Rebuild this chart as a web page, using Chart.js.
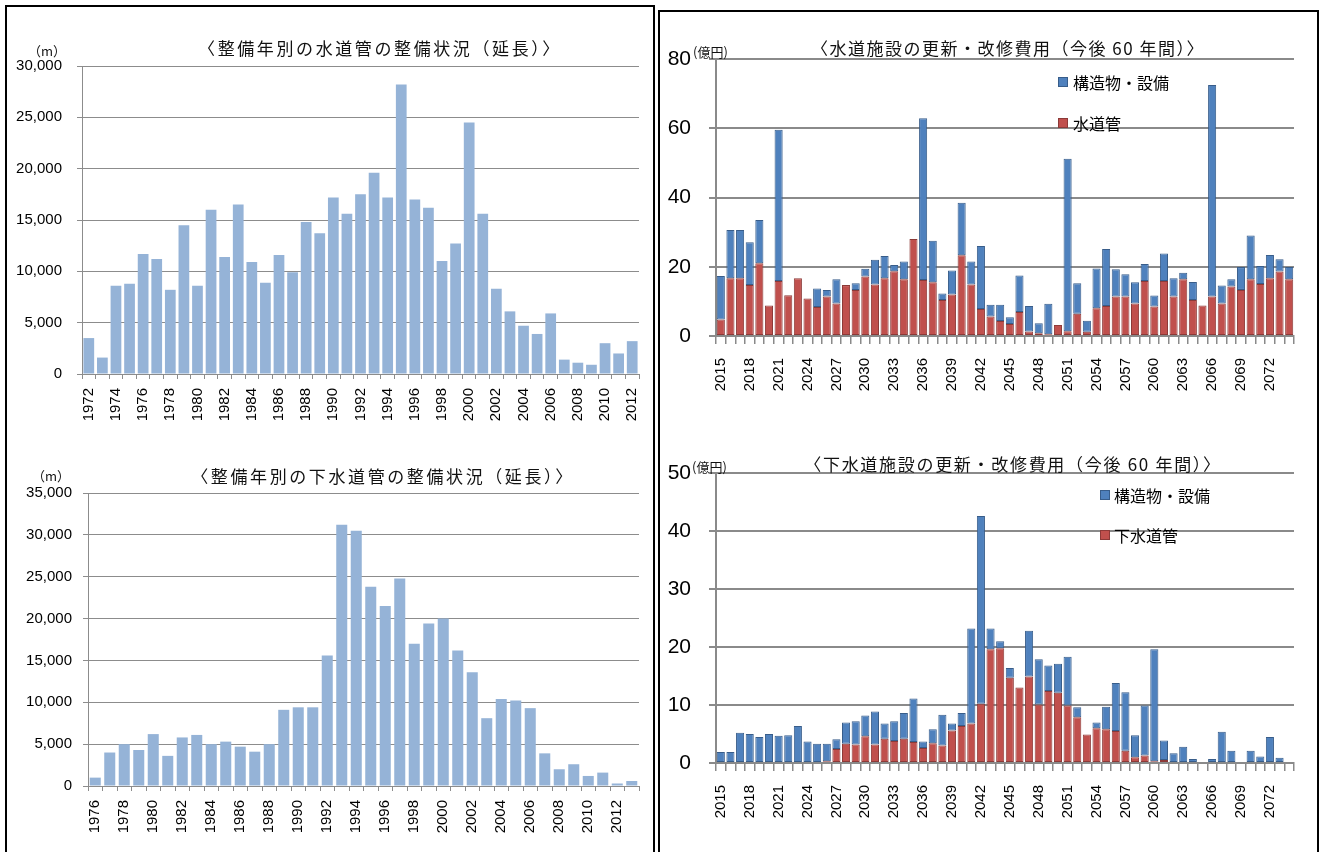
<!DOCTYPE html>
<html><head><meta charset="utf-8">
<script src="https://cdn.jsdelivr.net/npm/chart.js@4.4.1/dist/chart.umd.min.js"></script>
<style>
html,body{margin:0;padding:0;background:#fff;}
body{width:1319px;height:852px;overflow:hidden;position:relative;font-family:'Noto Sans CJK JP','Noto Sans',sans-serif;}
.box{position:absolute;border:2px solid #000;box-sizing:border-box;}
canvas{position:absolute;}
.t{position:absolute;white-space:nowrap;color:#111;line-height:1;}
.c{transform:translate(-50%,-50%);}
.v{transform:translateY(-50%);}
.title{font-size:17px;}
.unit{font-size:13px;}
.lg{font-size:16px;color:#000;}
.sq{position:absolute;width:10px;height:10px;box-sizing:border-box;}
</style>
</head>
<body>
<div class="box" style="left:5px;top:5px;width:650px;height:900px;"></div>
<div class="box" style="left:658px;top:10px;width:661px;height:900px;"></div>

<canvas id="c1" width="660" height="430" style="left:0;top:0;"></canvas>
<canvas id="c2" width="660" height="422" style="left:0;top:430px;"></canvas>
<canvas id="c3" width="659" height="430" style="left:660px;top:0;"></canvas>
<canvas id="c4" width="659" height="422" style="left:660px;top:430px;"></canvas>

<div class="t c title" style="left:380px;top:47px;letter-spacing:2.6px;">〈整備年別の水道管の整備状況（延長）〉</div>
<div class="t c unit" style="left:47px;top:50px;">（m）</div>
<div class="t c title" style="left:383px;top:475px;letter-spacing:2.6px;">〈整備年別の下水道管の整備状況（延長）〉</div>
<div class="t c unit" style="left:51px;top:475px;">（m）</div>

<div class="t c title" style="left:1008px;top:47px;letter-spacing:1.5px;">〈水道施設の更新・改修費用（今後 60 年間）〉</div>
<div class="t v unit" style="left:693px;top:51px;">(億円)</div>
<div class="t c title" style="left:1013px;top:463px;letter-spacing:1.7px;">〈下水道施設の更新・改修費用（今後 60 年間）〉</div>
<div class="t v unit" style="left:692px;top:466px;">(億円)</div>

<div class="sq" style="left:1058px;top:77px;background:#4F81BD;border:1px solid #385D8A;"></div>
<div class="t v lg" style="left:1073px;top:82px;">構造物・設備</div>
<div class="sq" style="left:1058px;top:118px;background:#C0504D;border:1px solid #8C3A38;"></div>
<div class="t v lg" style="left:1073px;top:123px;">水道管</div>

<div class="sq" style="left:1100px;top:490px;background:#4F81BD;border:1px solid #385D8A;"></div>
<div class="t v lg" style="left:1114px;top:495px;">構造物・設備</div>
<div class="sq" style="left:1100px;top:530px;background:#C0504D;border:1px solid #8C3A38;"></div>
<div class="t v lg" style="left:1114px;top:535px;">下水道管</div>

<script>
// ---- data ----
const waterPipeYears = ['1972','1973','1974','1975','1976','1977','1978','1979','1980','1981','1982','1983','1984','1985','1986','1987','1988','1989','1990','1991','1992','1993','1994','1995','1996','1997','1998','1999','2000','2001','2002','2003','2004','2005','2006','2007','2008','2009','2010','2011','2012'];
const waterPipeLength = [3500,1600,8600,8800,11700,11200,8200,14500,8600,16000,11400,16500,10900,8900,11600,9900,14800,13700,17200,15600,17500,19600,17200,28200,17000,16200,11000,12700,24500,15600,8300,6100,4700,3900,5900,1400,1100,900,3000,2000,3200];

const sewerPipeYears = ['1976','1977','1978','1979','1980','1981','1982','1983','1984','1985','1986','1987','1988','1989','1990','1991','1992','1993','1994','1995','1996','1997','1998','1999','2000','2001','2002','2003','2004','2005','2006','2007','2008','2009','2010','2011','2012','2013'];
const sewerPipeLength = [1000,4000,5000,4300,6200,3600,5800,6100,5000,5300,4700,4100,5000,9100,9400,9400,15600,31200,30500,23800,21500,24800,17000,19400,20000,16200,13600,8100,10400,10200,9300,3900,2000,2600,1200,1600,300,600];

const futureYears = ['2015','2016','2017','2018','2019','2020','2021','2022','2023','2024','2025','2026','2027','2028','2029','2030','2031','2032','2033','2034','2035','2036','2037','2038','2039','2040','2041','2042','2043','2044','2045','2046','2047','2048','2049','2050','2051','2052','2053','2054','2055','2056','2057','2058','2059','2060','2061','2062','2063','2064','2065','2066','2067','2068','2069','2070','2071','2072','2073','2074'];

const waterMainsCost = [4.8,16.7,16.7,14.7,21.0,8.8,15.9,11.8,16.7,10.8, 8.4,11.4,9.4,14.7,13.3,17.2,14.9,16.7,18.7,16.4, 28.0,16.2,15.5,10.4,12.0,23.3,14.9,7.8,5.6,4.3, 3.5,6.9,1.3,0.8,0.5,3.2,1.4,6.4,1.2,8.0, 8.7,11.4,11.4,9.4,15.9,8.5,15.9,11.4,16.4,10.4, 8.8,11.4,9.4,14.3,13.3,16.4,15.0,16.7,18.6,16.4];
const waterFacilityCost = [12.5,13.9,13.9,12.4,12.5,0,43.7,0,0,0, 5.3,1.9,7.0,0,1.9,2.2,7.1,6.4,1.8,5.1, 0,46.7,12.0,1.9,6.9,15.2,6.6,18.2,3.4,4.7, 1.9,10.6,7.4,2.9,8.8,0,49.8,8.8,3.2,11.5, 16.4,7.9,6.4,6.1,4.9,3.2,7.9,5.3,1.9,5.2, 0,61.1,5.2,2.1,6.6,12.6,5.2,6.7,3.6,3.5];

const sewerMainsCost = [0,0,0,0,0,0,0,0,0,0, 0,0.3,2.4,3.3,3.2,4.6,3.2,4.2,3.8,4.2, 3.6,2.6,3.4,3.0,5.6,6.4,6.8,10.2,19.6,19.8, 14.7,13.0,14.9,10.1,12.4,12.1,9.9,7.9,4.9,6.0, 5.8,5.5,2.1,1.0,1.3,0.3,0.5,0,0,0, 0,0,0,0,0,0,0,0,0,0];
const sewerFacilityCost = [1.9,1.9,5.2,5.0,4.5,5.0,4.7,4.8,6.4,3.7, 3.3,3.0,1.7,3.7,4.0,3.6,5.7,2.6,3.4,4.4, 7.5,1.1,2.4,5.3,1.2,2.2,16.4,32.4,3.6,1.2, 1.7,0,7.9,7.8,4.4,5.0,8.4,1.7,0,1.0, 3.9,8.3,10.1,3.8,8.6,19.3,3.4,1.7,2.8,0.7, 0,0.7,5.4,2.1,0,2.1,1.1,4.5,0.9,0];

// ---- charts ----
Chart.defaults.font.family = "'Liberation Sans', Arial, sans-serif";
Chart.defaults.color = '#000';

function fixX(h) {
  return s => { s.height = h; s.paddingLeft = 0; s.paddingRight = 0; };
}

function leftChart(id, labels, values, o) {
  return new Chart(document.getElementById(id), {
    type: 'bar',
    data: { labels: labels, datasets: [{ data: values, backgroundColor: '#95B3D7', borderWidth: 0, barPercentage: o.barPct, categoryPercentage: 1 }] },
    options: {
      responsive: false, animation: false, devicePixelRatio: 1,
      layout: { padding: { top: o.top, right: o.right, left: 0, bottom: 0 } },
      plugins: { legend: { display: false }, tooltip: { enabled: false } },
      scales: {
        x: {
          afterFit: fixX(o.xH),
          grid: { drawOnChartArea: false, drawTicks: true, tickLength: 5, color: '#8c8c8c', offset: true },
          border: { display: true, color: '#8c8c8c', width: 1 },
          ticks: { autoSkip: false, maxRotation: 90, minRotation: 90, padding: 9, font: { size: 15 }, color: '#000',
            callback: function (v, i) { return i % 2 === 0 ? this.getLabelForValue(v) : ''; } }
        },
        y: {
          min: 0, max: o.max,
          afterFit: s => { s.width = o.yW; },
          grid: { color: '#8c8c8c', lineWidth: 1, tickLength: 5 },
          border: { display: true, color: '#8c8c8c', width: 1 },
          ticks: { stepSize: o.step, padding: o.yPad, font: { size: 15 }, color: '#000',
            callback: v => v.toLocaleString('en-US') }
        }
      }
    }
  });
}

leftChart('c1', waterPipeYears, waterPipeLength, { top: 66, right: 21, xH: 56, yW: 82, max: 30000, step: 5000, yPad: 15, barPct: 0.79 });
leftChart('c2', sewerPipeYears, sewerPipeLength, { top: 63, right: 21, xH: 66, yW: 88, max: 35000, step: 5000, yPad: 11, barPct: 0.76 });

function rightChart(id, mains, facilities, mainsLabel, o) {
  return new Chart(document.getElementById(id), {
    type: 'bar',
    data: {
      labels: futureYears,
      datasets: [
        { label: mainsLabel, data: mains, backgroundColor: '#C0504D', borderColor: '#8C3A38', borderWidth: 1, borderSkipped: false, barPercentage: 0.84, categoryPercentage: 1 },
        { label: '構造物・設備', data: facilities, backgroundColor: '#4F81BD', borderColor: '#385D8A', borderWidth: 1, borderSkipped: false, barPercentage: 0.84, categoryPercentage: 1 }
      ]
    },
    options: {
      responsive: false, animation: false, devicePixelRatio: 1,
      layout: { padding: { top: o.top, right: 25, left: 0, bottom: 0 } },
      plugins: { legend: { display: false }, tooltip: { enabled: false } },
      scales: {
        x: {
          stacked: true,
          afterFit: fixX(o.xH),
          grid: { drawOnChartArea: false, drawTicks: true, tickLength: 8, color: '#8a8a8a', lineWidth: 1.5, offset: true },
          border: { display: true, color: '#8a8a8a', width: 2 },
          ticks: { autoSkip: false, maxRotation: 90, minRotation: 90, padding: 14, font: { size: 15 }, color: '#000',
            callback: function (v, i) { return i % 3 === 0 ? this.getLabelForValue(v) : ''; } }
        },
        y: {
          stacked: true, min: 0, max: o.max,
          afterFit: s => { s.width = 56; },
          grid: { color: '#8a8a8a', lineWidth: 2, tickLength: 7 },
          border: { display: true, color: '#8a8a8a', width: 2 },
          ticks: { stepSize: o.step, padding: 18, font: { size: 21, family: "'Liberation Sans Narrow', 'Liberation Sans', Arial, sans-serif" }, color: '#000' }
        }
      }
    }
  });
}

rightChart('c3', waterMainsCost, waterFacilityCost, '水道管', { top: 59, xH: 94, max: 80, step: 20 });
rightChart('c4', sewerMainsCost, sewerFacilityCost, '下水道管', { top: 43, xH: 89, max: 50, step: 10 });
</script>
</body></html>
